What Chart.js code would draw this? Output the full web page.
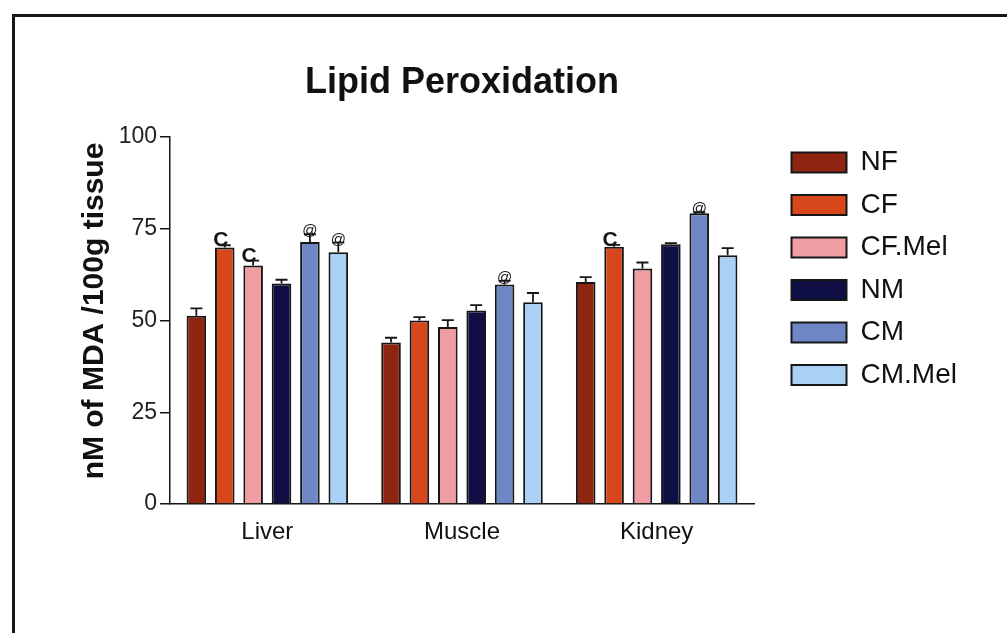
<!DOCTYPE html>
<html>
<head>
<meta charset="utf-8">
<title>Lipid Peroxidation</title>
<script src="https://cdn.jsdelivr.net/npm/chart.js@4"></script>
<style>
  html, body { margin: 0; padding: 0; background: #fff; }
  #wrap { width: 1007px; height: 633px; }
</style>
</head>
<body>
<div id="wrap"><canvas id="lpo-canvas"></canvas></div>
<script>
const organs = ['Liver', 'Muscle', 'Kidney']
const groups = ['NF', 'CF', 'CF.Mel', 'NM', 'CM', 'CM.Mel']

// mean nM MDA per group, one value per organ
const nf    = [51.3, 44.0, 60.5]
const cf    = [69.9, 50.0, 70.1]
const cfMel = [65.0, 48.2, 64.2]
const nm    = [60.1, 52.7, 70.8]
const cm    = [71.4, 59.8, 79.2]
const cmMel = [68.6, 55.0, 67.8]

// SEM (upper bar only)
const nfErr    = [2.0, 1.3, 1.3]
const cfErr    = [0.6, 0.9, 0.5]
const cfMelErr = [1.3, 1.9, 1.6]
const nmErr    = [1.0, 1.5, 0.3]
const cmErr    = [2.1, 1.0, 0.3]
const cmMelErr = [2.6, 2.5, 1.9]

// significance marks
const nfSig    = ['', '', '']
const cfSig    = ['C', '', 'C']
const cfMelSig = ['C', '', '']
const nmSig    = ['', '', '']
const cmSig    = ['@', '@', '@']
const cmMelSig = ['@', '', '']

const yTicks = [0, 25, 50, 75, 100]

const colors = ['#8f2410', '#d8461c', '#ef9ca3', '#0f0f45', '#6e86c4', '#a9d0f5']
const values = [nf, cf, cfMel, nm, cm, cmMel]
const errors = [nfErr, cfErr, cfMelErr, nmErr, cmErr, cmMelErr]
const marks  = [nfSig, cfSig, cfMelSig, nmSig, cmSig, cmMelSig]

const FONT = '"Liberation Sans", Arial, Helvetica, sans-serif'
const INK = '#161616'

const framePlugin = {
	id: 'frame',
	beforeDraw(chart) {
		const ctx = chart.ctx
		ctx.save()
		ctx.strokeStyle = INK
		ctx.lineWidth = 3
		ctx.beginPath()
		ctx.moveTo(13.5, chart.height + 5)
		ctx.lineTo(13.5, 15.5)
		ctx.lineTo(chart.width + 5, 15.5)
		ctx.stroke()
		ctx.restore()
	},
	afterDraw(chart) {
		const ctx = chart.ctx
		const a = chart.chartArea
		ctx.save()
		ctx.fillStyle = '#111'
		ctx.font = 'bold 36px ' + FONT
		ctx.textAlign = 'center'
		ctx.textBaseline = 'alphabetic'
		ctx.fillText('Lipid Peroxidation', (a.left + a.right) / 2, 93)
		// y axis title
		ctx.translate(103, 311)
		ctx.rotate(-Math.PI / 2)
		ctx.font = 'bold 30px ' + FONT
		ctx.fillText('nM of MDA /100g tissue', 0, 0)
		ctx.restore()
	}
}

const errorPlugin = {
	id: 'errorbars',
	afterDatasetsDraw(chart) {
		const ctx = chart.ctx
		const y = chart.scales.y
		ctx.save()
		ctx.strokeStyle = INK
		ctx.fillStyle = INK
		ctx.lineWidth = 1.8
		values.forEach((series, i) => {
			const meta = chart.getDatasetMeta(i)
			meta.data.forEach((bar, j) => {
				const top = y.getPixelForValue(series[j] + errors[i][j])
				ctx.beginPath()
				ctx.moveTo(bar.x, bar.y)
				ctx.lineTo(bar.x, top)
				ctx.moveTo(bar.x - 6, top)
				ctx.lineTo(bar.x + 6, top)
				ctx.stroke()
				const m = marks[i][j]
				if (m === 'C') {
					ctx.font = 'bold 21px ' + FONT
					ctx.textAlign = 'center'
					ctx.textBaseline = 'alphabetic'
					ctx.fillText(m, bar.x - 4, top + 1)
				} else if (m === '@') {
					ctx.font = '15px ' + FONT
					ctx.textAlign = 'center'
					ctx.textBaseline = 'alphabetic'
					ctx.fillText(m, bar.x, top + 1)
				}
			})
		})
		ctx.restore()
	}
}

const legendPlugin = {
	id: 'legendPlace',
	beforeLayout(chart) {
		const lg = chart.legend
		if (lg && !lg._fixed) {
			const fit = lg.fit.bind(lg)
			lg.fit = function () { fit(); this.width = 253 }
			lg._fixed = true
		}
	},
	afterLayout(chart) {
		const lg = chart.legend
		const w = lg.right - lg.left
		lg.left = 777
		lg.right = 777 + w
		lg.top = 134
	}
}

const context = document.getElementById('lpo-canvas').getContext('2d')

const myChart = new Chart(context, {
	type: 'bar',
	data: {
		labels: organs,
		datasets: groups.map((g, i) => ({
			label: g,
			data: values[i],
			backgroundColor: colors[i],
			borderColor: INK,
			borderWidth: 2,
			categoryPercentage: 0.875,
			barPercentage: 0.69
		}))
	},
	options: {
		responsive: true,
		maintainAspectRatio: false,
		animation: false,
		devicePixelRatio: 1,
		layout: { padding: { top: 137, right: 0, bottom: 0, left: 0 } },
		plugins: {
			title: { display: false },
			tooltip: { enabled: false },
			legend: {
				position: 'right',
				align: 'start',
				labels: {
					boxWidth: 55,
					boxHeight: 20,
					padding: 14.5,
					color: '#111',
					font: { family: FONT, size: 28 }
				}
			}
		},
		scales: {
			x: {
				grid: { display: false, drawTicks: false },
				border: { display: true, color: INK, width: 1.5 },
				ticks: { color: '#111', padding: 14, font: { family: FONT, size: 24 } },
				afterFit(scale) { scale.height = 633 - 504 }
			},
			y: {
				min: 0,
				max: 100,
				afterBuildTicks(scale) { scale.ticks = yTicks.map(v => ({ value: v })) },
				grid: { display: true, drawOnChartArea: false, drawTicks: true, tickLength: 10, color: INK, lineWidth: 1.5 },
				border: { display: true, color: INK, width: 1.5 },
				ticks: { color: '#222', padding: 3, font: { family: FONT, size: 23 } },
				afterFit(scale) { scale.width = 170 }
			}
		}
	},
	plugins: [framePlugin, errorPlugin, legendPlugin]
})
</script>
</body>
</html>
